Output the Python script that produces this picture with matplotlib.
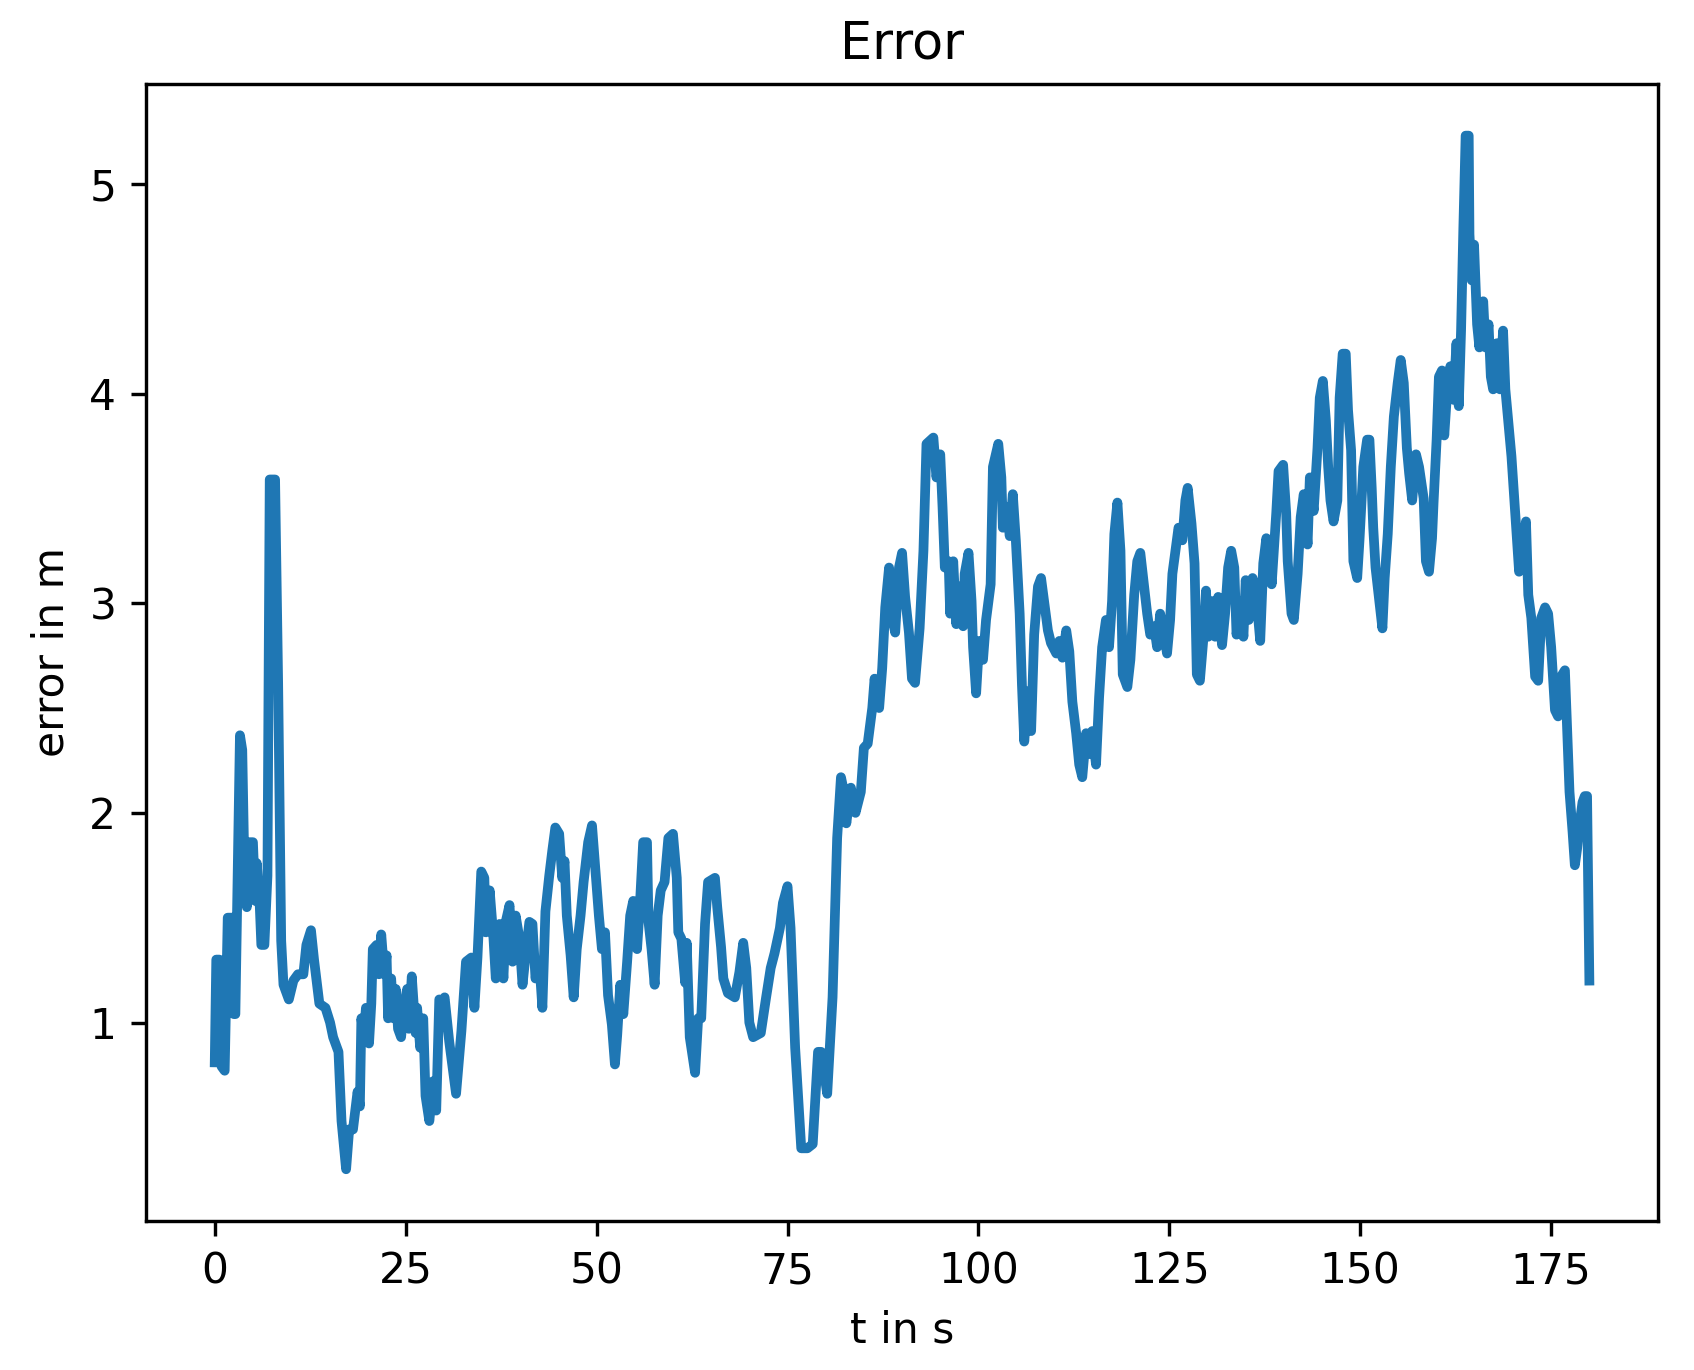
import numpy as np
import matplotlib
matplotlib.use("Agg")
import matplotlib.pyplot as plt

# time stamps (s) and position error (m)
t = [0.0, 0.2, 0.6, 0.9, 1.3, 1.7, 2.3, 2.5, 2.7, 3.3, 3.6, 3.9, 4.2, 4.5, 5.0,
     5.3, 5.5, 5.9, 6.1, 6.5, 6.9, 7.2, 7.9, 8.3, 8.7, 9.0, 9.7, 10.3, 10.9, 11.6,
     12.0, 12.6, 13.0, 13.7, 14.5, 15.1, 15.5, 16.2, 16.6, 17.2, 17.6, 18.1, 18.7, 19.0, 19.2,
     19.5, 19.8, 20.2, 20.5, 20.7, 21.2, 21.5, 21.8, 22.2, 22.5, 22.7, 23.1, 23.4, 23.7,
     24.0, 24.4, 24.8, 25.2, 25.4, 25.8, 26.3, 26.5, 26.9, 27.3, 27.6, 28.1, 28.6, 29.0,
     29.4, 29.8,
     30.1, 30.7, 31.6, 32.3, 32.9, 33.6, 34.0, 34.4, 34.9, 35.3, 35.5, 36.0, 36.5, 36.8,
     37.3, 37.8, 38.1, 38.6, 39.0, 39.4, 39.9, 40.3, 40.7, 41.2, 41.6, 42.0, 42.5, 42.9,
     43.3, 43.8, 44.2, 44.6, 45.1, 45.5, 45.8, 46.1, 46.6, 47.0, 47.4, 47.9, 48.3, 48.9,
     49.4, 49.8, 50.3, 50.7, 51.1, 51.5, 52.0, 52.4, 52.7, 53.1, 53.5, 54.0, 54.4, 54.8,
     55.3, 55.7, 56.1, 56.6, 56.8, 57.2, 57.6, 58.0, 58.4, 58.9,
     59.4, 60.0, 60.5, 60.7, 61.1, 61.6, 61.8, 62.2, 62.9, 63.3, 63.7, 64.2, 64.6, 65.5,
     65.8, 66.3, 66.6, 67.2, 68.1, 68.7, 69.2, 69.6, 70.0, 70.5, 71.5, 72.2, 72.8, 73.3,
     74.0, 74.4, 75.0, 75.4, 76.0, 76.8, 77.6, 78.3, 79.0, 79.4, 80.2, 80.9, 81.5, 82.0,
     82.4, 82.7, 83.3, 83.9, 84.6, 85.0, 85.5, 86.1, 86.4, 87.0, 87.4, 87.8, 88.3, 88.7,
     89.1, 89.6, 90.0, 90.4, 90.9, 91.3, 91.7, 92.3,
     92.8, 93.2, 94.1, 94.5, 95.0, 95.3, 95.6, 96.1, 96.3, 96.7, 97.1, 97.6, 98.0, 98.2,
     98.7, 99.1, 99.3, 99.7, 100.1, 100.6, 101.0, 101.6, 101.9, 102.6, 103.0, 103.2, 103.7,
     104.1, 104.5, 104.9, 105.4, 105.7, 106.0, 106.5, 106.9, 107.3, 107.8, 108.2, 108.6,
     109.1, 109.5, 110.2, 110.6, 111.0, 111.5, 111.9, 112.3, 112.8, 113.2, 113.6, 114.1,
     114.5, 114.9, 115.4, 115.8, 116.2, 116.7, 117.1, 117.5, 117.8, 118.2, 118.6, 118.9,
     119.5, 119.9, 120.4, 120.8, 121.2, 121.7, 122.1, 122.5, 123.0, 123.4, 123.8, 124.3,
     124.7, 125.1, 125.4, 125.8, 126.2, 126.7, 127.1, 127.4, 127.9, 128.3, 128.6, 129.0,
     129.5, 129.8, 130.1, 130.6, 131.0, 131.4, 131.9, 132.3, 132.7, 133.1, 133.5, 133.8,
     134.3, 134.7, 135.0, 135.4, 135.9, 136.3, 136.9, 137.3, 137.7, 138.2, 138.4, 139.0,
     139.3, 139.9, 140.3, 140.5, 141.0, 141.3, 141.8, 142.2, 142.6, 143.1, 143.4, 143.9,
     144.4, 144.7, 145.1, 145.5, 145.8, 146.1, 146.5, 147.0, 147.3, 147.7, 148.1, 148.4,
     148.8, 149.1, 149.6, 149.9, 150.4, 150.9, 151.2, 151.5, 151.7, 152.0, 152.5, 152.9,
     153.2, 153.6, 154.0, 154.4, 154.9, 155.3, 155.7, 156.1, 156.4, 156.8, 157.3, 157.7,
     158.3, 158.6, 159.0, 159.4, 159.6, 160.0, 160.3, 160.7, 161.0, 161.4, 161.8, 162.2,
     162.6, 162.9, 163.2, 163.5, 163.8, 164.2, 164.3, 164.6, 164.9, 165.3, 165.6, 166.1,
     166.4, 166.8, 167.1, 167.4, 167.9, 168.3, 168.7, 169.0, 169.4, 169.8, 170.3, 170.6,
     170.8, 171.4, 171.7, 172.0, 172.4, 172.9, 173.3, 173.7, 174.2, 174.6, 175.0, 175.5,
     175.9, 176.3, 176.8, 177.0, 177.4, 177.8, 178.1, 178.4, 178.7, 179.1, 179.4, 179.7,
     180.0]

err = [0.81, 1.30, 1.30, 0.79, 0.77, 1.50, 1.50, 1.04, 1.04, 2.37, 2.30, 1.70, 1.55, 1.86, 1.86,
       1.58, 1.76, 1.55, 1.37, 1.37, 1.70, 3.59, 3.59, 2.62, 1.39, 1.18, 1.11, 1.20, 1.23, 1.23,
       1.37, 1.44, 1.30, 1.09, 1.07, 1.00, 0.93, 0.86, 0.53, 0.30, 0.49, 0.49, 0.67, 0.60, 1.02,
       0.93, 1.07, 0.90, 1.09, 1.35, 1.37, 1.23, 1.42, 1.23, 1.32, 1.02, 1.21, 1.02, 1.16,
       0.97, 0.93, 1.09, 1.16, 0.97, 1.22, 0.95, 1.07, 0.88, 1.02, 0.65, 0.53, 0.72, 0.58,
       1.11, 1.09,
       1.12, 0.91, 0.66, 0.96, 1.29, 1.31, 1.07, 1.31, 1.72, 1.69, 1.43, 1.63, 1.40, 1.21,
       1.47, 1.21, 1.48, 1.56, 1.29, 1.51, 1.40, 1.18, 1.32, 1.48, 1.47, 1.21, 1.29, 1.07,
       1.53, 1.70, 1.82, 1.93, 1.90, 1.69, 1.77, 1.51, 1.32, 1.12, 1.35, 1.51, 1.67, 1.86,
       1.94, 1.75, 1.51, 1.35, 1.43, 1.13, 0.99, 0.80, 0.94, 1.18, 1.04, 1.29, 1.51, 1.58,
       1.35, 1.58, 1.86, 1.86, 1.48, 1.35, 1.18, 1.51, 1.63, 1.67,
       1.88, 1.90, 1.69, 1.43, 1.40, 1.19, 1.38, 0.93, 0.76, 1.02, 1.02, 1.47, 1.67, 1.69,
       1.55, 1.36, 1.21, 1.14, 1.12, 1.24, 1.38, 1.26, 1.00, 0.93, 0.95, 1.12, 1.26, 1.33,
       1.45, 1.57, 1.65, 1.45, 0.88, 0.40, 0.40, 0.42, 0.86, 0.86, 0.66, 1.12, 1.88, 2.17,
       2.10, 1.95, 2.12, 2.00, 2.10, 2.31, 2.33, 2.50, 2.64, 2.50, 2.69, 2.98, 3.17, 2.93,
       2.86, 3.17, 3.24, 3.03, 2.86, 2.64, 2.62, 2.88,
       3.25, 3.76, 3.79, 3.60, 3.71, 3.46, 3.17, 3.20, 2.95, 3.20, 2.90, 3.08, 2.89, 3.14,
       3.24, 3.01, 2.79, 2.57, 2.82, 2.73, 2.92, 3.09, 3.65, 3.76, 3.60, 3.36, 3.46,
       3.32, 3.52, 3.30, 2.95, 2.61, 2.34, 2.58, 2.39, 2.85, 3.08, 3.12, 3.01,
       2.87, 2.81, 2.76, 2.82, 2.74, 2.87, 2.77, 2.53, 2.38, 2.23, 2.17, 2.38,
       2.28, 2.39, 2.23, 2.55, 2.79, 2.92, 2.79, 3.01, 3.33, 3.48, 3.25, 2.66,
       2.60, 2.73, 3.04, 3.20, 3.24, 3.08, 2.95, 2.85, 2.89, 2.79, 2.95, 2.85,
       2.76, 2.92, 3.14, 3.25, 3.36, 3.30, 3.49, 3.55, 3.38, 3.19, 2.66, 2.63,
       2.85, 3.06, 2.84, 3.01, 2.84, 3.03, 2.80, 2.95, 3.17, 3.25, 3.17, 2.85,
       3.01, 2.84, 3.11, 2.92, 3.12, 3.07, 2.82, 3.19, 3.31, 3.17, 3.09, 3.43,
       3.63, 3.66, 3.43, 3.20, 2.95, 2.92, 3.14, 3.41, 3.52, 3.28, 3.60, 3.44,
       3.74, 3.98, 4.06, 3.87, 3.65, 3.49, 3.39, 3.49, 3.98, 4.19, 4.19, 3.92,
       3.73, 3.20, 3.12, 3.30, 3.65, 3.78, 3.78, 3.55, 3.36, 3.17, 3.01, 2.88,
       3.12, 3.33, 3.65, 3.89, 4.05, 4.16, 4.05, 3.74, 3.62, 3.49, 3.71, 3.65,
       3.50, 3.20, 3.15, 3.31, 3.48, 3.78, 4.08, 4.11, 3.80, 4.02, 4.13, 3.97,
       4.24, 3.94, 4.30, 4.79, 5.23, 5.23, 4.76, 4.54, 4.71, 4.33, 4.22, 4.44,
       4.22, 4.33, 4.08, 4.02, 4.24, 4.02, 4.30, 4.02, 3.86, 3.70, 3.42, 3.26,
       3.15, 3.31, 3.39, 3.04, 2.93, 2.65, 2.63, 2.93, 2.98, 2.95, 2.79, 2.49,
       2.46, 2.65, 2.68, 2.49, 2.10, 1.91, 1.75, 1.83, 1.94, 2.05, 2.08, 2.08,
       1.20]

dpi = 305
fig = plt.figure(figsize=(1694 / dpi, 1370 / dpi), dpi=dpi)
ax = fig.add_axes([0.0862, 0.1088, 0.8926, 0.8299])

# the original trace is sampled densely, so it reads as a thicker line
ax.plot(t, err, color='#1f77b4', lw=2.3, solid_joinstyle='round')
ax.set_title('Error')
ax.set_xlabel('t in s')
ax.set_ylabel('error in m')

fig.savefig('out.png', dpi=dpi)
